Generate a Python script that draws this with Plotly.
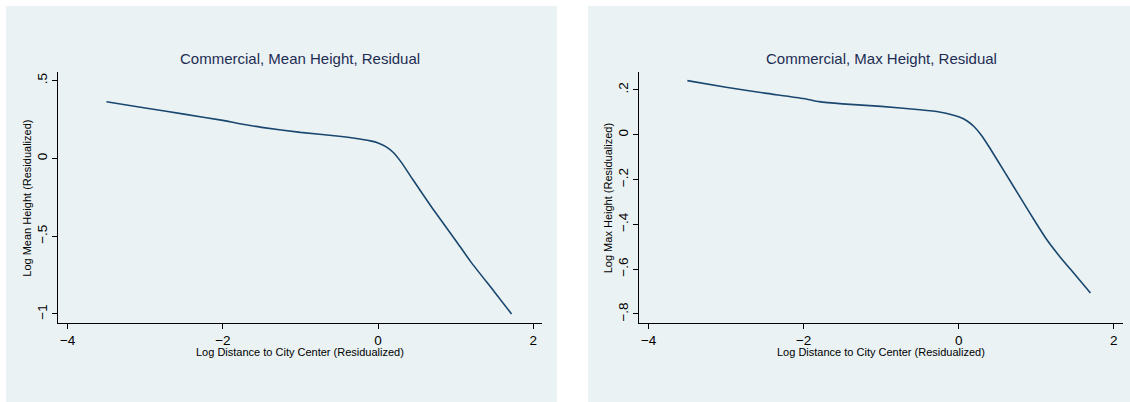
import plotly.graph_objects as go

W, H = 1130, 402

# ---- data ----
mean_x = [-3.5, -3.0, -2.5, -2.0, -1.8, -1.5, -1.0, -0.5, -0.3, -0.1, 0.0, 0.1, 0.2, 0.3, 0.45, 0.7, 1.0, 1.2, 1.5, 1.72]
mean_y = [0.365, 0.325, 0.285, 0.245, 0.225, 0.200, 0.168, 0.143, 0.130, 0.113, 0.100, 0.076, 0.037, -0.025, -0.137, -0.320, -0.527, -0.668, -0.858, -1.0]

max_x = [-3.5, -3.0, -2.5, -2.0, -1.8, -1.5, -1.0, -0.5, -0.25, 0.0, 0.1, 0.2, 0.3, 0.4, 0.6, 0.8, 1.0, 1.14, 1.3, 1.5, 1.7]
max_y = [0.242, 0.212, 0.186, 0.162, 0.148, 0.138, 0.127, 0.112, 0.102, 0.080, 0.064, 0.036, -0.005, -0.058, -0.170, -0.283, -0.395, -0.470, -0.542, -0.624, -0.706]

x_ticks = [-4, -2, 0, 2]
x_tick_text = ["\u22124", "\u22122", "0", "2"]
mean_y_ticks = [0.5, 0, -0.5, -1]
mean_y_tick_text = [".5", "0", "\u2212.5", "\u22121"]
max_y_ticks = [0.2, 0, -0.2, -0.4, -0.6, -0.8]
max_y_tick_text = [".2", "0", "\u2212.2", "\u2212.4", "\u2212.6", "\u2212.8"]

titles = ["Commercial, Mean Height, Residual", "Commercial, Max Height, Residual"]
x_title = "Log Distance to City Center (Residualized)"
y_titles = ["Log Mean Height (Residualized)", "Log Max Height (Residualized)"]

BG = "#EAF2F3"
LINE = "#1A476F"
TITLE_C = "#1E2D53"
FONT = "Liberation Sans, Arial, Helvetica, sans-serif"

fig = go.Figure()
fig.add_trace(go.Scatter(x=mean_x, y=mean_y, mode="lines", xaxis="x", yaxis="y",
                         line=dict(color=LINE, width=1.6, shape="spline", smoothing=0.5),
                         showlegend=False, hoverinfo="skip"))
fig.add_trace(go.Scatter(x=max_x, y=max_y, mode="lines", xaxis="x2", yaxis="y2",
                         line=dict(color=LINE, width=1.6, shape="spline", smoothing=0.5),
                         showlegend=False, hoverinfo="skip"))

# pixel geometry
panels = [
    dict(bg=(6, 557), plot_x=(58.3, 542.3), yr=[-1.056, 0.554], yt=mean_y_ticks, ytt=mean_y_tick_text),
    dict(bg=(588, 1130), plot_x=(639.3, 1122.7), yr=[-0.839, 0.279], yt=max_y_ticks, ytt=max_y_tick_text),
]
plot_top, plot_bot = 72.3, 322.7

def px(v):
    return v / W

def py(v):
    return 1 - v / H

shapes = []
annotations = []
axes = {}
for i, p in enumerate(panels):
    shapes.append(dict(type="rect", xref="paper", yref="paper", layer="below",
                       x0=px(p["bg"][0]), x1=px(p["bg"][1]), y0=0, y1=py(6),
                       fillcolor=BG, line=dict(width=0)))
    sfx = "" if i == 0 else "2"
    axes["xaxis" + sfx] = dict(
        domain=[px(p["plot_x"][0]), px(p["plot_x"][1])], anchor="y" + sfx,
        range=[-4.12, 2.116], tickvals=x_ticks, ticktext=x_tick_text,
        showgrid=False, zeroline=False, showline=True, linecolor="#000000", linewidth=1,
        ticks="outside", ticklen=5, tickwidth=1, tickcolor="#000000",
        tickfont=dict(family=FONT, size=13.5, color="#000000"), fixedrange=True)
    axes["yaxis" + sfx] = dict(
        domain=[py(plot_bot), py(plot_top)], anchor="x" + sfx,
        range=p["yr"], tickvals=p["yt"], ticktext=p["ytt"], tickangle=-90,
        showgrid=True, gridcolor=BG, gridwidth=1, zeroline=False,
        showline=True, linecolor="#000000", linewidth=1,
        ticks="outside", ticklen=5, tickwidth=1, tickcolor="#000000",
        tickfont=dict(family=FONT, size=13.5, color="#000000"), fixedrange=True)
    cx = (p["plot_x"][0] + p["plot_x"][1]) / 2
    annotations.append(dict(text=titles[i], xref="paper", yref="paper", x=px(cx), y=py(59),
                            xanchor="center", yanchor="middle", showarrow=False,
                            font=dict(family=FONT, size=15, color=TITLE_C)))
    annotations.append(dict(text=x_title, xref="paper", yref="paper", x=px(cx), y=py(351.5),
                            xanchor="center", yanchor="middle", showarrow=False,
                            font=dict(family=FONT, size=11, color="#000000")))
    ytx = 26.7 if i == 0 else 608.3
    annotations.append(dict(text=y_titles[i], xref="paper", yref="paper", x=px(ytx), y=py(198),
                            xanchor="center", yanchor="middle", showarrow=False, textangle=-90,
                            font=dict(family=FONT, size=11, color="#000000")))

fig.update_layout(
    width=W, height=H, margin=dict(l=0, r=0, t=0, b=0),
    paper_bgcolor="white", plot_bgcolor="white",
    shapes=shapes, annotations=annotations, showlegend=False,
    **axes)

fig.write_html("out.html", config={"displayModeBar": False})
